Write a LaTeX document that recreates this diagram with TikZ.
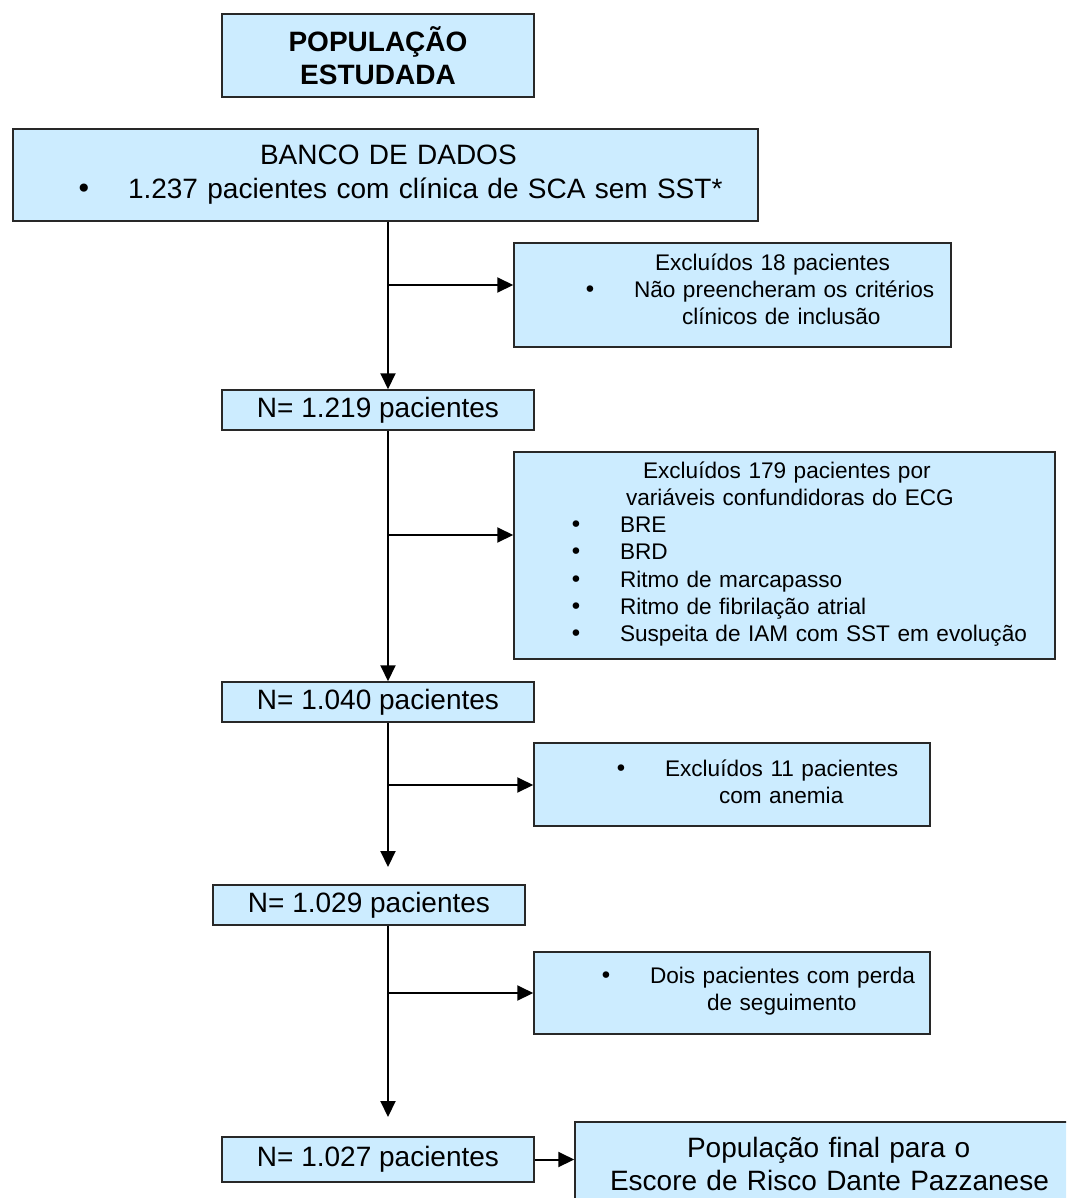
\documentclass[tikz,border=0pt]{standalone}
\usepackage{fontspec}
\setmainfont{Liberation Sans}
\newfontfamily\bulfont{DejaVu Sans}
\usetikzlibrary{arrows.meta}
\definecolor{boxblue}{RGB}{204,236,255}
\definecolor{boxline}{RGB}{40,40,40}
\tikzstyle{titlebox} = [rectangle, draw=boxline, fill=boxblue, line width=0.75pt, inner sep=0pt, align=center, minimum width=156pt, minimum height=41.5pt, font=\fontsize{14}{16.5}\selectfont\bfseries]
\tikzstyle{countbox} = [rectangle, draw=boxline, fill=boxblue, line width=0.75pt, inner sep=0pt, minimum width=156pt, minimum height=20pt, font=\fontsize{14}{17}\selectfont]
\tikzstyle{exclbox} = [rectangle, draw=boxline, fill=boxblue, line width=0.75pt, inner sep=0pt, align=left, font=\fontsize{11.3}{13.6}\selectfont]
\tikzstyle{arrow} = [line width=1pt,-{Triangle[length=8pt,width=7.5pt]}]
\newcommand{\bitem}[2]{\hspace*{#1}\makebox[0pt]{\bulfont •}\hspace*{22pt}#2}

\begin{document}
\begin{tikzpicture}[x=0.5pt,y=-0.5pt]
    \useasboundingbox (0,0) rectangle (1066,1198);
    \clip (0,0) rectangle (1066,1198);

    \node (populacao) [titlebox] at (378,55.5) {POPULAÇÃO\\ESTUDADA};
    \node (banco) [exclbox, text width=372.5pt, minimum height=46pt, font=\fontsize{14}{17}\selectfont] at (385.5,175)
        {\hspace*{123.5pt}BANCO DE DADOS\\\bitem{35.5pt}{1.237 pacientes com clínica de SCA sem SST*}};
    \node (excl1) [exclbox, text width=218.5pt, minimum height=52pt] at (732.5,295)
        {\hspace*{70.5pt}Excluídos 18 pacientes\\\bitem{38pt}{Não preencheram os critérios}\\\hspace*{84pt}clínicos de inclusão\par\kern6pt};
    \node (n1219) [countbox] at (378,410) {N= 1.219 pacientes};
    \node (excl2) [exclbox, text width=270.5pt, minimum height=103.5pt] at (784.5,555.5)
        {\hspace*{64.5pt}Excluídos 179 pacientes por\\\hspace*{56pt}variáveis confundidoras do ECG\\
         \bitem{31pt}{BRE}\\\bitem{31pt}{BRD}\\\bitem{31pt}{Ritmo de marcapasso}\\
         \bitem{31pt}{Ritmo de fibrilação atrial}\\\bitem{31pt}{Suspeita de IAM com SST em evolução}\par\kern1.5pt};
    \node (n1040) [countbox] at (378,702) {N= 1.040 pacientes};
    \node (excl3) [exclbox, text width=198pt, minimum height=41.5pt] at (732,784.5)
        {\bitem{43.5pt}{Excluídos 11 pacientes}\\\hspace*{92.5pt}com anemia\par\kern3pt};
    \node (n1029) [countbox] at (369,905) {N= 1.029 pacientes};
    \node (excl4) [exclbox, text width=198pt, minimum height=41pt] at (732,993)
        {\bitem{36pt}{Dois pacientes com perda}\\\hspace*{86.5pt}de seguimento\par\kern2pt};
    \node (n1027) [countbox, minimum height=22.5pt] at (378,1159.5) {N= 1.027 pacientes};
    \node (final) [exclbox, text width=265pt, minimum height=42pt, font=\fontsize{14}{16.5}\selectfont] at (840,1164)
        {\hspace*{56pt}População final para o\\\hspace*{17.5pt}Escore de Risco Dante Pazzanese};

    \coordinate (trunk) at (388,0);
    \coordinate (b1) at (388,285);
    \coordinate (b2) at (388,535);
    \coordinate (b3) at (388,785);
    \coordinate (b4) at (388,993);
    \coordinate (t3) at (388,867);
    \coordinate (t4) at (388,1117);

    \draw [arrow] (banco.south -| trunk) -- (n1219.north -| trunk);
    \draw [arrow] (b1) -- (b1 -| excl1.west);
    \draw [arrow] (n1219.south -| trunk) -- (n1040.north -| trunk);
    \draw [arrow] (b2) -- (b2 -| excl2.west);
    \draw [arrow] (n1040.south -| trunk) -- (t3);
    \draw [arrow] (b3) -- (b3 -| excl3.west);
    \draw [arrow] (n1029.south -| trunk) -- (t4);
    \draw [arrow] (b4) -- (b4 -| excl4.west);
    \draw [arrow] (n1027.east) -- (n1027.east -| final.west);

\end{tikzpicture}
\end{document}
